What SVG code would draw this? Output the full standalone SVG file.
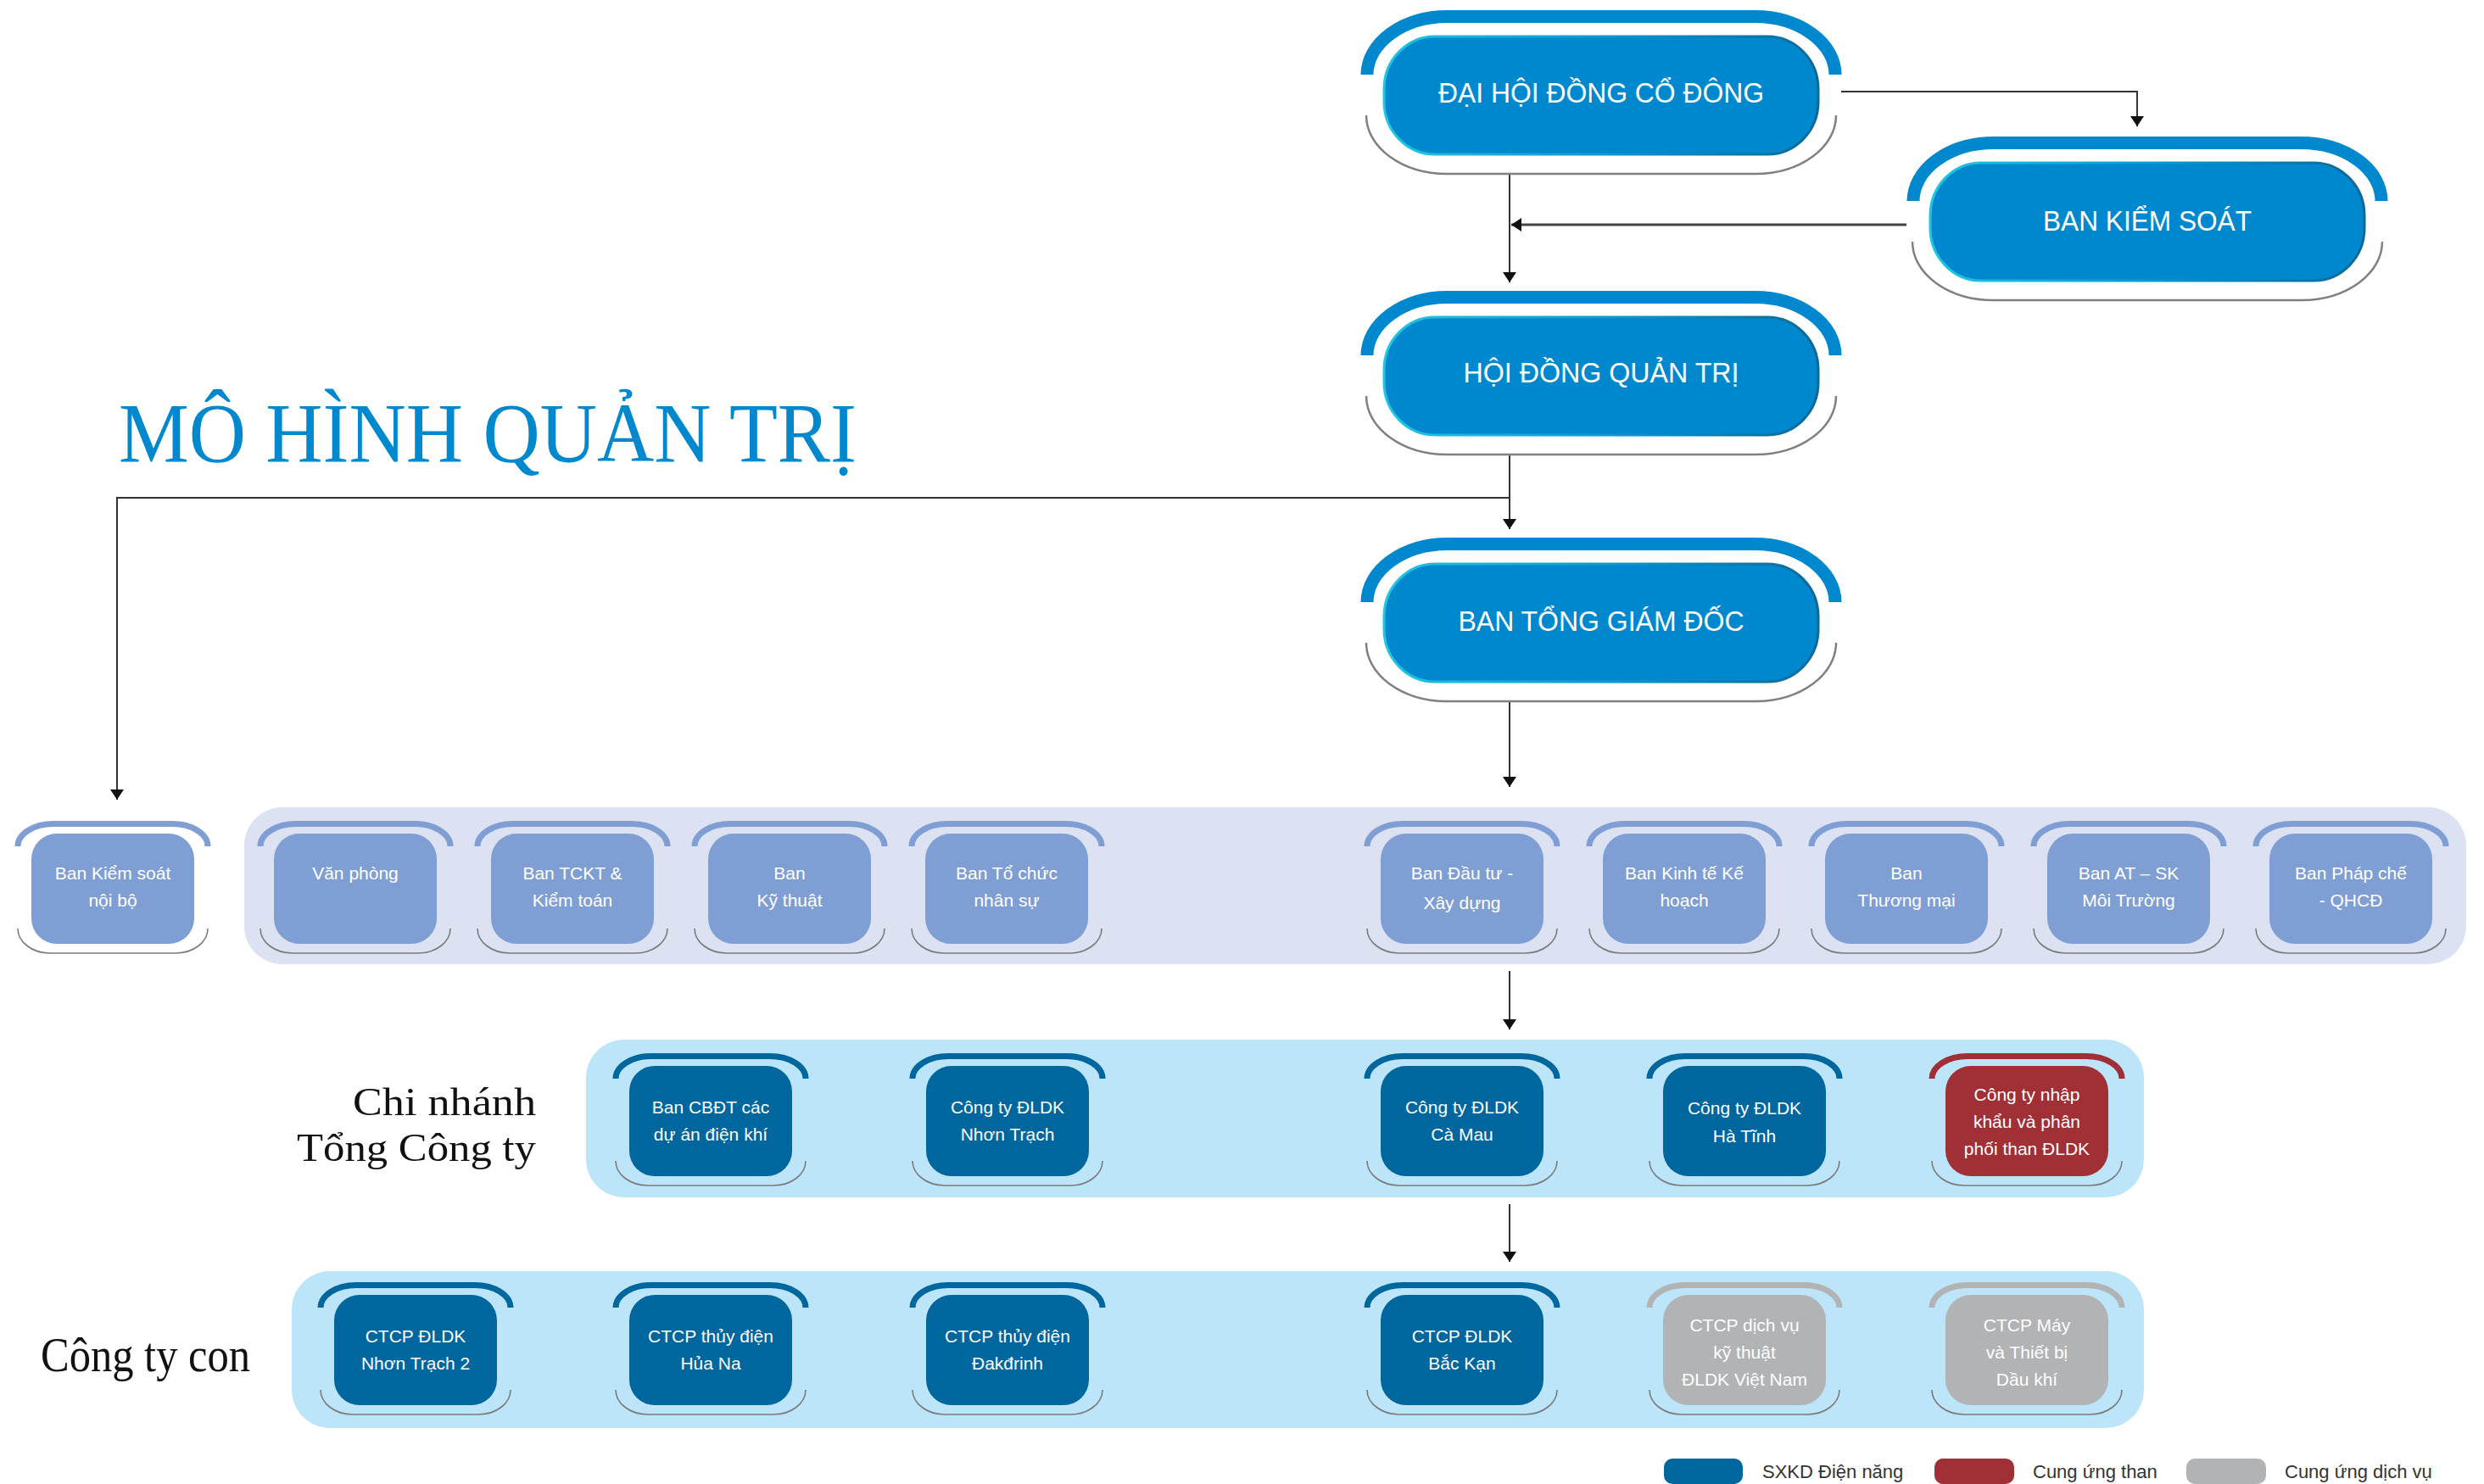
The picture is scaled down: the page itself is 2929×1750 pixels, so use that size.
<svg xmlns="http://www.w3.org/2000/svg" xmlns:xlink="http://www.w3.org/1999/xlink" width="2929" height="1750" viewBox="0 0 2929 1750">
<style>
.bg{fill:#ffffff}
.band1{fill:#dce2f2}
.band2{fill:#bde5f9}
.bigpill{fill:#0088ce;stroke:url(#edge);stroke-width:3}
.bigarc{fill:none;stroke:#0088ce;stroke-width:15}
.bot{fill:none;stroke:#808080;stroke-width:2.5}
.sbot{fill:none;stroke:#7a7a7a;stroke-width:1.6}
.steel{fill:#7f9fd4}
.steelarc{fill:none;stroke:#7f9fd4;stroke-width:7}
.dark{fill:#00669e}
.darkarc{fill:none;stroke:#00669e;stroke-width:7}
.red{fill:#a02f36}
.redarc{fill:none;stroke:#a02f36;stroke-width:7}
.grey{fill:#b1b3b5}
.greyarc{fill:none;stroke:#b1b3b5;stroke-width:7}
.bigtxt{font-family:"Liberation Sans","DejaVu Sans",sans-serif;font-size:34px;fill:#ffffff;text-anchor:middle}
.stxt{font-family:"Liberation Sans","DejaVu Sans",sans-serif;font-size:21px;fill:#ffffff;text-anchor:middle}
.title{font-family:"Liberation Serif","DejaVu Serif",serif;font-size:100px;fill:#0088ce}
.side{font-family:"Liberation Serif","DejaVu Serif",serif;font-size:57px;fill:#111111}
.side2{font-family:"Liberation Serif","DejaVu Serif",serif;font-size:47px;fill:#111111}
.leg{font-family:"Liberation Sans","DejaVu Sans",sans-serif;font-size:22px;fill:#333333}
.conn{fill:none;stroke:#333333;stroke-width:2}
</style>
<defs>
<linearGradient id="edge" x1="0" y1="0" x2="1" y2="0">
<stop offset="0" stop-color="#22c6e3"/>
<stop offset="0.5" stop-color="#0a9ad6"/>
<stop offset="1" stop-color="#0b6896"/>
</linearGradient>
<marker id="ah" viewBox="0 0 12 16" refX="12" refY="8" markerWidth="12" markerHeight="16" markerUnits="userSpaceOnUse" orient="auto">
<path d="M0,0 L12,8 L0,16 z" fill="#111111"/>
</marker>
<path id="bArc" d="M-20,45 A95 68.5 0 0 1 75,-23.5 H437 A95 68.5 0 0 1 532,45"/>
<path id="bBot" d="M-21,93 A95 69 0 0 0 74,162 H438 A95 69 0 0 0 533,93"/>
<path id="sArc" d="M-16,15 A42 26.5 0 0 1 26,-11.5 H166 A42 26.5 0 0 1 208,15"/>
<path id="sBot" d="M-16,112 A38 29 0 0 0 22,141 H170 A38 29 0 0 0 208,112"/>
</defs>
<rect class="bg" x="0" y="0" width="2929" height="1750"/>

<text class="title" x="140" y="544" textLength="870" lengthAdjust="spacingAndGlyphs">MÔ HÌNH QUẢN TRỊ</text>
<text class="side2" x="632" y="1315" text-anchor="end" textLength="216" lengthAdjust="spacingAndGlyphs">Chi nhánh</text>
<text class="side2" x="632" y="1369" text-anchor="end" textLength="282" lengthAdjust="spacingAndGlyphs">Tổng Công ty</text>
<text class="side" x="48" y="1617" textLength="247" lengthAdjust="spacingAndGlyphs">Công ty con</text>

<g id="bands">
<rect class="band1" x="288" y="952" width="2620" height="185" rx="45"/>
<rect class="band2" x="691" y="1226" width="1837" height="186" rx="45"/>
<rect class="band2" x="344" y="1499" width="2184" height="185" rx="45"/>
</g>

<g id="connectors">
<path class="conn" d="M2171,108 H2520 V149" marker-end="url(#ah)"/>
<path class="conn" d="M2248,265 H1782" style="stroke:#444444;stroke-width:3" marker-end="url(#ah)"/>
<path class="conn" d="M1780,206 V333" marker-end="url(#ah)"/>
<path class="conn" d="M1780,537 V624" marker-end="url(#ah)"/>
<path class="conn" d="M1780,587 H138 V943" marker-end="url(#ah)"/>
<path class="conn" d="M1780,828 V928" marker-end="url(#ah)"/>
<path class="conn" d="M1780,1145 V1214" marker-end="url(#ah)"/>
<path class="conn" d="M1780,1420 V1488" marker-end="url(#ah)"/>
</g>

<g id="dai-hoi-dong-co-dong" transform="translate(1632,43)">
<use xlink:href="#bArc" class="bigarc"/><use xlink:href="#bBot" class="bot"/>
<rect class="bigpill" x="0" y="0" width="512" height="139" rx="60" ry="62"/>
<text class="bigtxt" x="256" y="78" textLength="384" lengthAdjust="spacingAndGlyphs">ĐẠI HỘI ĐỒNG CỔ ĐÔNG</text>
</g>
<g id="ban-kiem-soat" transform="translate(2276,192)">
<use xlink:href="#bArc" class="bigarc"/><use xlink:href="#bBot" class="bot"/>
<rect class="bigpill" x="0" y="0" width="512" height="139" rx="60" ry="62"/>
<text class="bigtxt" x="256" y="80" textLength="246" lengthAdjust="spacingAndGlyphs">BAN KIỂM SOÁT</text>
</g>
<g id="hoi-dong-quan-tri" transform="translate(1632,374)">
<use xlink:href="#bArc" class="bigarc"/><use xlink:href="#bBot" class="bot"/>
<rect class="bigpill" x="0" y="0" width="512" height="139" rx="60" ry="62"/>
<text class="bigtxt" x="256" y="77" textLength="325" lengthAdjust="spacingAndGlyphs">HỘI ĐỒNG QUẢN TRỊ</text>
</g>
<g id="ban-tong-giam-doc" transform="translate(1632,665)">
<use xlink:href="#bArc" class="bigarc"/><use xlink:href="#bBot" class="bot"/>
<rect class="bigpill" x="0" y="0" width="512" height="139" rx="60" ry="62"/>
<text class="bigtxt" x="256" y="79" textLength="337" lengthAdjust="spacingAndGlyphs">BAN TỔNG GIÁM ĐỐC</text>
</g>

<g id="ban-kiem-soat-noi-bo" transform="translate(37,983)">
<use xlink:href="#sArc" class="steelarc"/><use xlink:href="#sBot" class="sbot"/>
<rect class="steel" width="192" height="130" rx="30"/>
<text class="stxt" x="96" y="54">Ban Kiểm soát</text><text class="stxt" x="96" y="86">nội bộ</text>
</g>
<g id="van-phong" transform="translate(323,983)">
<use xlink:href="#sArc" class="steelarc"/><use xlink:href="#sBot" class="sbot"/>
<rect class="steel" width="192" height="130" rx="30"/>
<text class="stxt" x="96" y="54">Văn phòng</text>
</g>
<g id="ban-tckt" transform="translate(579,983)">
<use xlink:href="#sArc" class="steelarc"/><use xlink:href="#sBot" class="sbot"/>
<rect class="steel" width="192" height="130" rx="30"/>
<text class="stxt" x="96" y="54">Ban TCKT &amp;</text><text class="stxt" x="96" y="86">Kiểm toán</text>
</g>
<g id="ban-ky-thuat" transform="translate(835,983)">
<use xlink:href="#sArc" class="steelarc"/><use xlink:href="#sBot" class="sbot"/>
<rect class="steel" width="192" height="130" rx="30"/>
<text class="stxt" x="96" y="54">Ban</text><text class="stxt" x="96" y="86">Kỹ thuật</text>
</g>
<g id="ban-to-chuc" transform="translate(1091,983)">
<use xlink:href="#sArc" class="steelarc"/><use xlink:href="#sBot" class="sbot"/>
<rect class="steel" width="192" height="130" rx="30"/>
<text class="stxt" x="96" y="54">Ban Tổ chức</text><text class="stxt" x="96" y="86">nhân sự</text>
</g>
<g id="ban-dau-tu" transform="translate(1628,983)">
<use xlink:href="#sArc" class="steelarc"/><use xlink:href="#sBot" class="sbot"/>
<rect class="steel" width="192" height="130" rx="30"/>
<text class="stxt" x="96" y="54">Ban Đầu tư -</text><text class="stxt" x="96" y="89">Xây dựng</text>
</g>
<g id="ban-kinh-te" transform="translate(1890,983)">
<use xlink:href="#sArc" class="steelarc"/><use xlink:href="#sBot" class="sbot"/>
<rect class="steel" width="192" height="130" rx="30"/>
<text class="stxt" x="96" y="54">Ban Kinh tế Kế</text><text class="stxt" x="96" y="86">hoạch</text>
</g>
<g id="ban-thuong-mai" transform="translate(2152,983)">
<use xlink:href="#sArc" class="steelarc"/><use xlink:href="#sBot" class="sbot"/>
<rect class="steel" width="192" height="130" rx="30"/>
<text class="stxt" x="96" y="54">Ban</text><text class="stxt" x="96" y="86">Thương mại</text>
</g>
<g id="ban-at-sk" transform="translate(2414,983)">
<use xlink:href="#sArc" class="steelarc"/><use xlink:href="#sBot" class="sbot"/>
<rect class="steel" width="192" height="130" rx="30"/>
<text class="stxt" x="96" y="54">Ban AT – SK</text><text class="stxt" x="96" y="86">Môi Trường</text>
</g>
<g id="ban-phap-che" transform="translate(2676,983)">
<use xlink:href="#sArc" class="steelarc"/><use xlink:href="#sBot" class="sbot"/>
<rect class="steel" width="192" height="130" rx="30"/>
<text class="stxt" x="96" y="54">Ban Pháp chế</text><text class="stxt" x="96" y="86">- QHCĐ</text>
</g>

<g id="ban-cbdt" transform="translate(742,1257)">
<use xlink:href="#sArc" class="darkarc"/><use xlink:href="#sBot" class="sbot"/>
<rect class="dark" width="192" height="130" rx="30"/>
<text class="stxt" x="96" y="56">Ban CBĐT các</text><text class="stxt" x="96" y="88">dự án điện khí</text>
</g>
<g id="cty-nhon-trach" transform="translate(1092,1257)">
<use xlink:href="#sArc" class="darkarc"/><use xlink:href="#sBot" class="sbot"/>
<rect class="dark" width="192" height="130" rx="30"/>
<text class="stxt" x="96" y="56">Công ty ĐLDK</text><text class="stxt" x="96" y="88">Nhơn Trạch</text>
</g>
<g id="cty-ca-mau" transform="translate(1628,1257)">
<use xlink:href="#sArc" class="darkarc"/><use xlink:href="#sBot" class="sbot"/>
<rect class="dark" width="192" height="130" rx="30"/>
<text class="stxt" x="96" y="56">Công ty ĐLDK</text><text class="stxt" x="96" y="88">Cà Mau</text>
</g>
<g id="cty-ha-tinh" transform="translate(1961,1257)">
<use xlink:href="#sArc" class="darkarc"/><use xlink:href="#sBot" class="sbot"/>
<rect class="dark" width="192" height="130" rx="30"/>
<text class="stxt" x="96" y="57">Công ty ĐLDK</text><text class="stxt" x="96" y="90">Hà Tĩnh</text>
</g>
<g id="cty-nhap-khau-than" transform="translate(2294,1257)">
<use xlink:href="#sArc" class="redarc"/><use xlink:href="#sBot" class="sbot"/>
<rect class="red" width="192" height="130" rx="30"/>
<text class="stxt" x="96" y="41">Công ty nhập</text><text class="stxt" x="96" y="73">khẩu và phân</text><text class="stxt" x="96" y="105">phối than ĐLDK</text>
</g>

<g id="ctcp-nhon-trach-2" transform="translate(394,1527)">
<use xlink:href="#sArc" class="darkarc"/><use xlink:href="#sBot" class="sbot"/>
<rect class="dark" width="192" height="130" rx="30"/>
<text class="stxt" x="96" y="56">CTCP ĐLDK</text><text class="stxt" x="96" y="88">Nhơn Trạch 2</text>
</g>
<g id="ctcp-hua-na" transform="translate(742,1527)">
<use xlink:href="#sArc" class="darkarc"/><use xlink:href="#sBot" class="sbot"/>
<rect class="dark" width="192" height="130" rx="30"/>
<text class="stxt" x="96" y="56">CTCP thủy điện</text><text class="stxt" x="96" y="88">Hủa Na</text>
</g>
<g id="ctcp-dakdrinh" transform="translate(1092,1527)">
<use xlink:href="#sArc" class="darkarc"/><use xlink:href="#sBot" class="sbot"/>
<rect class="dark" width="192" height="130" rx="30"/>
<text class="stxt" x="96" y="56">CTCP thủy điện</text><text class="stxt" x="96" y="88">Đakđrinh</text>
</g>
<g id="ctcp-bac-kan" transform="translate(1628,1527)">
<use xlink:href="#sArc" class="darkarc"/><use xlink:href="#sBot" class="sbot"/>
<rect class="dark" width="192" height="130" rx="30"/>
<text class="stxt" x="96" y="56">CTCP ĐLDK</text><text class="stxt" x="96" y="88">Bắc Kạn</text>
</g>
<g id="ctcp-dich-vu" transform="translate(1961,1527)">
<use xlink:href="#sArc" class="greyarc"/><use xlink:href="#sBot" class="sbot"/>
<rect class="grey" width="192" height="130" rx="30"/>
<text class="stxt" x="96" y="43">CTCP dịch vụ</text><text class="stxt" x="96" y="75">kỹ thuật</text><text class="stxt" x="96" y="107">ĐLDK Việt Nam</text>
</g>
<g id="ctcp-may-thiet-bi" transform="translate(2294,1527)">
<use xlink:href="#sArc" class="greyarc"/><use xlink:href="#sBot" class="sbot"/>
<rect class="grey" width="192" height="130" rx="30"/>
<text class="stxt" x="96" y="43">CTCP Máy</text><text class="stxt" x="96" y="75">và Thiết bị</text><text class="stxt" x="96" y="107">Dầu khí</text>
</g>

<g id="legend">
<rect class="dark" x="1962" y="1720" width="93" height="30" rx="10"/>
<text class="leg" x="2078" y="1743">SXKD Điện năng</text>
<rect class="red" x="2281" y="1720" width="94" height="30" rx="10"/>
<text class="leg" x="2397" y="1743">Cung ứng than</text>
<rect class="grey" x="2578" y="1720" width="94" height="30" rx="10"/>
<text class="leg" x="2694" y="1743">Cung ứng dịch vụ</text>
</g>
</svg>
